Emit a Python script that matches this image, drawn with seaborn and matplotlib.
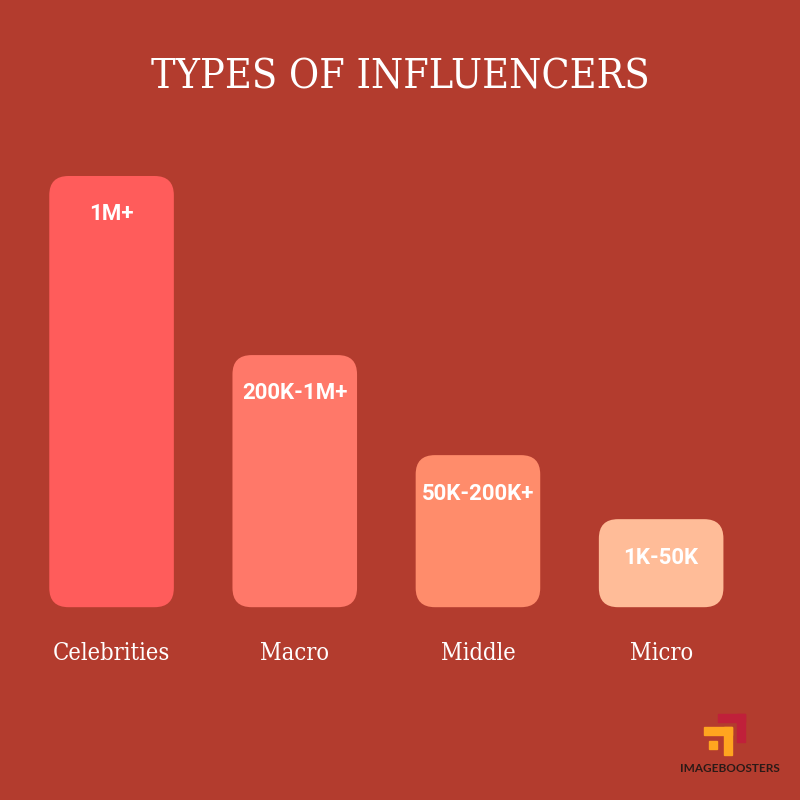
import matplotlib.pyplot as plt
import seaborn as sns
import pandas as pd
from matplotlib.patches import FancyBboxPatch, Rectangle

# data (bar heights are relative pixel heights)
categories = ["Celebrities", "Macro", "Middle", "Micro"]
heights = [431, 252, 152, 88]
ranges = ["1M+", "200K-1M+", "50K-200K+", "1K-50K"]
colors = ["#FF5C5B", "#FF7869", "#FF8C6B", "#FFBC98"]

BG = "#B33C2E"

sns.set_theme(style="white")
plt.rcParams["font.family"] = ["DejaVu Sans"]

df = pd.DataFrame({"type": categories, "size": heights})

fig = plt.figure(figsize=(8, 8), dpi=100, facecolor=BG)
ax = fig.add_axes([0, 0.241, 1, 0.539])
ax.set_facecolor(BG)

sns.barplot(data=df, x="type", y="size", hue="type", palette=colors,
            width=0.68, legend=False, ax=ax)
ax.set_xlim(-0.609, 3.758)
ax.set_ylim(0, max(heights))
for s in ax.spines.values():
    s.set_visible(False)
ax.set_yticks([])
ax.set_xlabel("")
ax.set_ylabel("")
ax.tick_params(axis="x", length=0, pad=25)
for lab in ax.get_xticklabels():
    lab.set_fontfamily("DejaVu Serif")
    lab.set_fontstretch("condensed")
    lab.set_fontsize(17)
    lab.set_color("white")

# swap the plain bars for rounded ones (in figure coords so corners stay round)
fig.canvas.draw()
inv = fig.transFigure.inverted()
for patch, col, txt in zip(list(ax.patches), colors, ranges):
    bb = patch.get_window_extent()
    (x0, y0), (x1, y1) = inv.transform([(bb.x0, bb.y0), (bb.x1, bb.y1)])
    patch.set_visible(False)
    fig.patches.append(FancyBboxPatch(
        (x0, y0), x1 - x0, y1 - y0,
        boxstyle="round,pad=0,rounding_size=0.024",
        transform=fig.transFigure, facecolor=col, edgecolor="none", zorder=2))
    fig.text((x0 + x1) / 2, y1 - 0.048, txt, ha="center", va="center",
             color="white", fontsize=16, fontweight="bold",
             family="Roboto", zorder=3)

fig.text(0.5, 0.903, "TYPES OF INFLUENCERS", ha="center", va="center",
         color="white", fontsize=29.5, family="DejaVu Serif",
         fontstretch="condensed")

# small logo in the corner
fig.patches.append(Rectangle((718 / 800, 1 - 722 / 800), 27 / 800, 8 / 800,
                             transform=fig.transFigure, color="#C0203A", zorder=2))
fig.patches.append(Rectangle((737 / 800, 1 - 742 / 800), 8 / 800, 28 / 800,
                             transform=fig.transFigure, color="#C0203A", zorder=2))
fig.patches.append(Rectangle((704 / 800, 1 - 735 / 800), 28 / 800, 8 / 800,
                             transform=fig.transFigure, color="#FFA51F", zorder=3))
fig.patches.append(Rectangle((724 / 800, 1 - 755 / 800), 8 / 800, 28 / 800,
                             transform=fig.transFigure, color="#FFA51F", zorder=3))
fig.patches.append(Rectangle((709 / 800, 1 - 749 / 800), 8 / 800, 8 / 800,
                             transform=fig.transFigure, color="#FFA51F", zorder=3))
fig.text(730 / 800, 1 - 768 / 800, "IMAGEBOOSTERS", ha="center", va="center",
         color="#2B1A17", fontsize=8.5, family="Lato", fontweight="bold")

fig.savefig("out.png", dpi=100, facecolor=BG)
